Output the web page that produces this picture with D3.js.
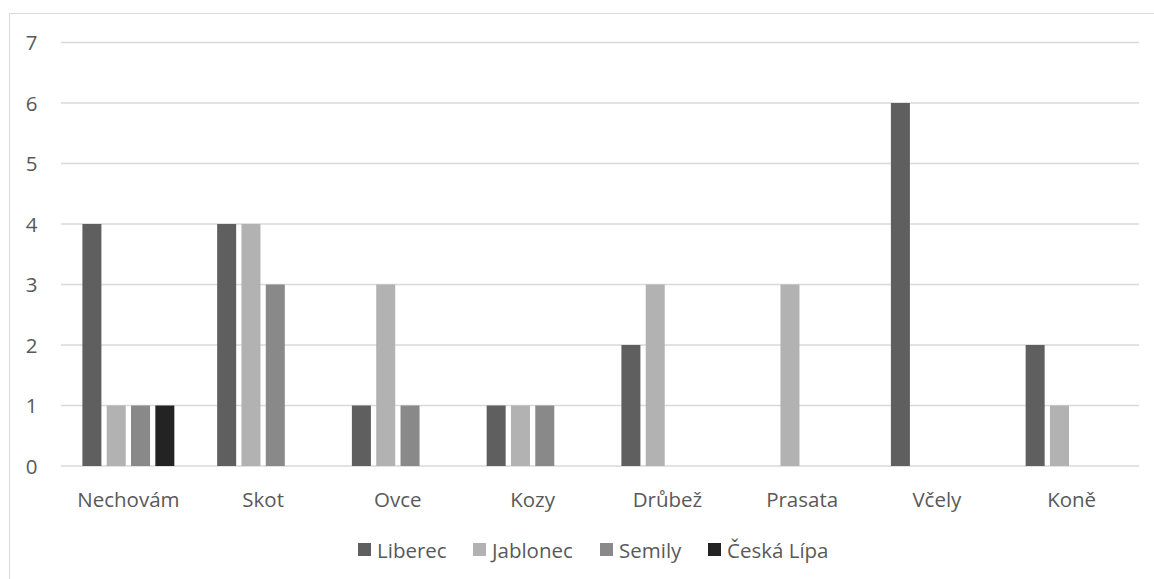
<!DOCTYPE html>
<html>
<head>
<meta charset="utf-8">
<script src="https://cdn.jsdelivr.net/npm/d3@7"></script>
<style>
  html, body { margin: 0; padding: 0; background: #fff; }
  svg { display: block; }
  text { font-family: "Open Sans", Lato, sans-serif; fill: #595959; }
</style>
</head>
<body>
<svg id="chart" width="1154" height="579"></svg>
<script>
const categories = ["Nechovám", "Skot", "Ovce", "Kozy", "Drůbež", "Prasata", "Včely", "Koně"];
const seriesNames = ["Liberec", "Jablonec", "Semily", "Česká Lípa"];
const liberec   = [4, 4, 1, 1, 2, 0, 6, 2];
const jablonec  = [1, 4, 3, 1, 3, 3, 0, 1];
const semily    = [1, 3, 1, 1, 0, 0, 0, 0];
const ceskaLipa = [1, 0, 0, 0, 0, 0, 0, 0];
const yTicks = [0, 1, 2, 3, 4, 5, 6, 7];
const colors = ["#5f5f5f", "#b2b2b2", "#898989", "#232323"];

const seriesValues = [liberec, jablonec, semily, ceskaLipa];
const data = categories.map((c, i) => ({
  category: c,
  values: seriesNames.map((s, j) => ({ series: s, value: seriesValues[j][i] }))
}));

const svg = d3.select("#chart");
const fs = 20.5;

// chart border
svg.append("rect")
  .attr("x", 9.5).attr("y", 13.5)
  .attr("width", 1160).attr("height", 600)
  .attr("fill", "none").attr("stroke", "#d9d9d9").attr("stroke-width", 1);

const plot = { left: 61, right: 1139, top: 42.5, bottom: 466 };

const x0 = d3.scaleBand().domain(categories).range([plot.left, plot.right]).padding(0);
const x1 = d3.scaleBand().domain(seriesNames).range([0, x0.bandwidth()])
  .paddingInner(0.218).paddingOuter(0.88);
const y = d3.scaleLinear().domain([0, 7]).range([plot.bottom, plot.top]);

// gridlines
svg.append("g").selectAll("line").data(yTicks).join("line")
  .attr("x1", plot.left).attr("x2", plot.right)
  .attr("y1", d => y(d)).attr("y2", d => y(d))
  .attr("stroke", "#d9d9d9").attr("stroke-width", 1.4);

// y labels
svg.append("g").selectAll("text").data(yTicks).join("text")
  .attr("x", 37.5).attr("y", d => y(d) + 7.5)
  .attr("text-anchor", "end")
  .attr("font-size", fs)
  .text(d => d);

// bars
const groups = svg.append("g").selectAll("g").data(data).join("g")
  .attr("transform", d => `translate(${x0(d.category)},0)`);
groups.selectAll("rect").data(d => d.values.filter(v => v.value > 0)).join("rect")
  .attr("x", d => x1(d.series))
  .attr("width", x1.bandwidth())
  .attr("y", d => y(d.value))
  .attr("height", d => y(0) - y(d.value))
  .attr("fill", d => colors[seriesNames.indexOf(d.series)]);

// category labels
svg.append("g").selectAll("text").data(categories).join("text")
  .attr("x", d => x0(d) + x0.bandwidth() / 2)
  .attr("y", 507)
  .attr("text-anchor", "middle")
  .attr("font-size", fs)
  .text(d => d);

// legend
const legendX = [358, 473, 600, 708];
const legend = svg.append("g").selectAll("g").data(seriesNames).join("g")
  .attr("transform", (d, i) => `translate(${legendX[i]},0)`);
legend.append("rect")
  .attr("x", 0).attr("y", 543).attr("width", 13).attr("height", 13)
  .attr("fill", (d, i) => colors[i]);
legend.append("text")
  .attr("x", 19).attr("y", 557.5)
  .attr("font-size", fs)
  .text(d => d);
</script>
</body>
</html>
